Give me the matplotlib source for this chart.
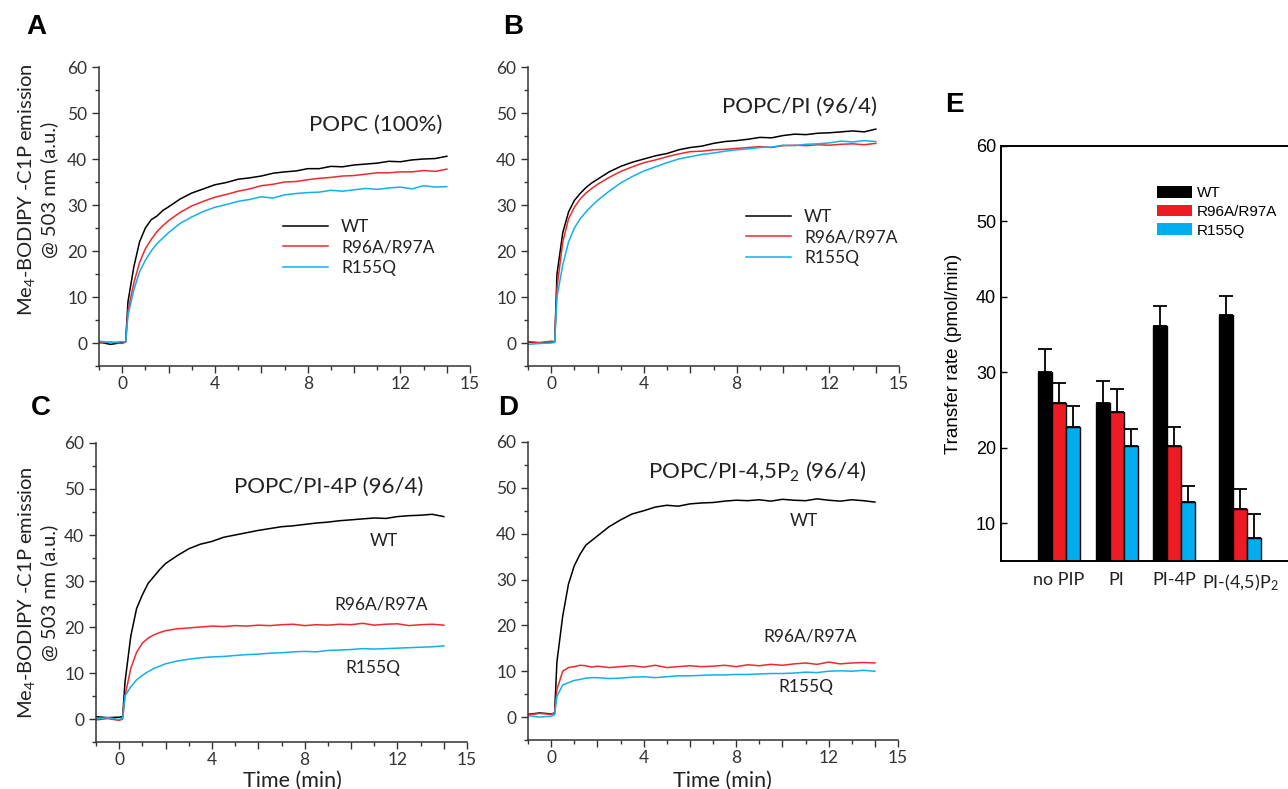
import numpy as np
import matplotlib
matplotlib.use("Agg")
import matplotlib.pyplot as plt
from matplotlib.patches import Patch
from matplotlib.ticker import FixedLocator, FixedFormatter

plt.rcParams['font.family'] = ['Lato', 'DejaVu Sans']
plt.rcParams['mathtext.fontset'] = 'custom'
plt.rcParams['mathtext.rm'] = 'Lato'
plt.rcParams['mathtext.default'] = 'regular'

# sampling times (min), shared by all traces
t = [-1.0, -0.5, 0.0, 0.15, 0.25, 0.5, 0.75, 1.0, 1.25, 1.5, 1.75,
     2.0, 2.5, 3.0, 3.5, 4.0, 4.5, 5.0, 5.5, 6.0, 6.5, 7.0, 7.5, 8.0,
     8.5, 9.0, 9.5, 10.0, 10.5, 11.0, 11.5, 12.0, 12.5, 13.0, 13.5, 14.0]

# panel A  POPC (100%)
a_wt = [0.2, -0.3, 0.1, 0.3, 9, 16.5, 22, 25, 26.8, 27.6, 28.8, 29.6, 31.3, 32.6, 33.5, 34.4,
        34.9, 35.6, 35.9, 36.3, 36.9, 37.2, 37.4, 37.9, 37.9, 38.4, 38.3, 38.7, 38.9, 39.1,
        39.5, 39.4, 39.8, 40.0, 40.1, 40.6]
a_rr = [0.0, 0.2, -0.1, 0.2, 7, 13, 17.5, 20.5, 22.5, 24.2, 25.5, 26.6, 28.4, 29.8, 30.8, 31.7,
        32.3, 33.0, 33.5, 34.2, 34.5, 35.0, 35.1, 35.5, 35.8, 36.0, 36.3, 36.4, 36.7, 37.0,
        37.0, 37.2, 37.2, 37.5, 37.3, 37.8]
a_rq = [0.4, 0.1, 0.3, 0.2, 6, 11.5, 15.5, 18, 20, 21.6, 22.8, 24, 26, 27.4, 28.6, 29.5,
        30.1, 30.8, 31.2, 31.8, 31.5, 32.2, 32.5, 32.7, 32.8, 33.2, 33.0, 33.3, 33.6, 33.4,
        33.7, 33.9, 33.5, 34.2, 33.9, 34.0]

# panel B  POPC/PI (96/4)
b_wt = [0.2, 0.0, 0.2, 0.3, 15, 24, 28.5, 31, 32.5, 33.8, 34.8, 35.6, 37.2, 38.4, 39.3, 40.0,
        40.7, 41.2, 42.0, 42.5, 42.8, 43.4, 43.8, 44.0, 44.3, 44.7, 44.6, 45.1, 45.4, 45.3,
        45.6, 45.7, 45.9, 46.1, 45.9, 46.5]
b_rr = [0.3, 0.1, 0.4, 0.3, 12, 22, 27, 29.5, 31.3, 32.6, 33.6, 34.5, 36.0, 37.3, 38.3, 39.2,
        39.8, 40.5, 41.1, 41.6, 41.7, 42.0, 42.1, 42.3, 42.5, 42.7, 42.5, 42.9, 43.0, 42.9,
        43.1, 43.0, 43.2, 43.3, 43.1, 43.4]
b_rq = [-0.3, -0.1, 0.0, 0.1, 10, 17, 22, 25, 27, 28.5, 29.8, 31, 33, 34.8, 36.2, 37.4,
        38.3, 39.2, 40.0, 40.5, 41.0, 41.3, 41.7, 42.0, 42.2, 42.5, 42.6, 43.0, 42.9, 43.2,
        43.3, 43.5, 43.9, 43.7, 44.0, 43.8]

# panel C  POPC/PI-4P (96/4)
c_wt = [0.5, 0.3, 0.4, 0.5, 8, 18, 24, 27, 29.5, 31, 32.5, 33.8, 35.5, 37, 38, 38.6,
        39.5, 40.0, 40.5, 41.0, 41.4, 41.8, 42.0, 42.3, 42.6, 42.8, 43.1, 43.3, 43.5, 43.7,
        43.6, 44.0, 44.2, 44.3, 44.5, 44.0]
c_rr = [-0.2, 0.1, -0.3, 0.0, 5, 11, 14.5, 16.5, 17.6, 18.3, 18.8, 19.2, 19.6, 19.8, 20.0, 20.2,
        20.1, 20.3, 20.2, 20.4, 20.3, 20.5, 20.6, 20.3, 20.5, 20.4, 20.6, 20.5, 20.8, 20.4,
        20.6, 20.7, 20.3, 20.5, 20.6, 20.4]
c_rq = [0.1, 0.3, -0.1, 0.2, 5, 7, 8.5, 9.5, 10.3, 11.0, 11.5, 12.0, 12.6, 13.0, 13.3, 13.5,
        13.6, 13.8, 14.0, 14.1, 14.3, 14.4, 14.6, 14.7, 14.6, 14.9, 15.0, 15.1, 15.3, 15.2,
        15.3, 15.4, 15.5, 15.6, 15.7, 15.9]

# panel D  POPC/PI-4,5P2 (96/4)
d_wt = [0.6, 0.9, 0.7, 0.8, 12, 22, 29, 33, 35.5, 37.5, 38.5, 39.5, 41.5, 43, 44.3, 45,
        45.8, 46.2, 46.0, 46.5, 46.7, 46.8, 47.1, 47.3, 47.2, 47.4, 47.1, 47.5, 47.3, 47.2,
        47.6, 47.3, 47.1, 47.4, 47.2, 46.9]
d_rr = [0.5, 0.8, 0.6, 1.0, 6, 10, 10.8, 11, 11.3, 11.2, 10.9, 11.1, 10.8, 11.0, 11.2, 10.9,
        11.3, 10.8, 11.0, 11.2, 11.0, 11.1, 11.3, 11.0, 11.4, 11.2, 11.5, 11.3, 11.6, 11.8,
        11.5, 12.0, 11.6, 11.8, 11.9, 11.8]
d_rq = [0.3, 0.0, 0.2, 0.5, 4.5, 7, 7.5, 8.0, 8.2, 8.5, 8.6, 8.6, 8.4, 8.5, 8.7, 8.8,
        8.6, 8.8, 9.0, 9.0, 9.1, 9.2, 9.2, 9.3, 9.3, 9.4, 9.5, 9.5, 9.6, 9.8,
        9.7, 10.0, 10.1, 10.0, 10.2, 10.0]

# panel E  transfer rates
lipids = ['no PIP', 'PI', 'PI-4P', 'PI-(4,5)P$_2$']
rate_wt = [30.0, 26.0, 36.2, 37.6]
err_wt = [3.1, 2.8, 2.6, 2.5]
rate_rr = [26.0, 24.7, 20.2, 11.9]
err_rr = [2.6, 3.1, 2.6, 2.7]
rate_rq = [22.8, 20.3, 12.8, 8.0]
err_rq = [2.7, 2.2, 2.2, 3.2]

labels = ['WT', 'R96A/R97A', 'R155Q']
cols = ['#000000', '#ee2a2e', '#12b0ec']
bar_cols = ['#000000', '#ed1c24', '#00aeef']

W, H = 1288, 789
fig = plt.figure(figsize=(W / 100, H / 100), dpi=100)


def box(l, r, top, bot):
    return [l / W, 1 - bot / H, (r - l) / W, (bot - top) / H]


def kinetic(ax, series):
    for y, c, lab in zip(series, cols, labels):
        ax.plot(t, y, color=c, lw=1.1, label=lab)
    ax.set_xlim(-1, 15)
    ax.set_ylim(-5, 60)
    for s in ['top', 'right']:
        ax.spines[s].set_visible(False)
    for s in ['left', 'bottom']:
        ax.spines[s].set_color('#333333')
        ax.spines[s].set_linewidth(1.1)
    ax.set_yticks(range(0, 61, 10))
    ax.set_yticks(range(-5, 60, 10), minor=True)
    major = [0, 2, 4, 6, 8, 10, 12, 14, 15]
    ax.xaxis.set_major_locator(FixedLocator(major))
    ax.xaxis.set_major_formatter(FixedFormatter(['0', '', '4', '', '8', '', '12', '', '15']))
    ax.set_xticks([-1, 1, 3, 5, 7, 9, 11, 13], minor=True)
    ax.tick_params(which='major', length=5, width=1.0, color='#333333',
                   labelsize=12.5, labelcolor='#333333')
    ax.tick_params(which='minor', length=3, width=1.0, color='#333333')
    ax.tick_params(axis='x', which='major', pad=2)


def key(ax, top):
    ax.legend(loc='upper left', bbox_to_anchor=(top[0] / W, 1 - top[1] / H),
              bbox_transform=fig.transFigure, frameon=False, fontsize=12.5,
              handlelength=2.6, handletextpad=0.75, labelspacing=0.25,
              borderpad=0, borderaxespad=0, labelcolor='#222222')


txt = dict(color='#222222', ha='center', va='center')

axA = fig.add_axes(box(99, 470, 67, 366))
kinetic(axA, [a_wt, a_rr, a_rq])
axA.text(10.95, 47.4, 'POPC (100%)', fontsize=16, **txt)
key(axA, (283, 219))

axB = fig.add_axes(box(528, 899, 67, 366))
kinetic(axB, [b_wt, b_rr, b_rq])
axB.text(10.7, 51.3, 'POPC/PI (96/4)', fontsize=16, **txt)
key(axB, (746, 209))

axC = fig.add_axes(box(96, 467, 443, 742))
kinetic(axC, [c_wt, c_rr, c_rq])
axC.text(9.05, 50.4, 'POPC/PI-4P (96/4)', fontsize=16, **txt)
axC.text(11.4, 38.7, 'WT', fontsize=12.5, **txt)
axC.text(11.3, 24.8, 'R96A/R97A', fontsize=12.5, **txt)
axC.text(10.95, 11.1, 'R155Q', fontsize=12.5, **txt)

axD = fig.add_axes(box(528, 898, 442, 740))
kinetic(axD, [d_wt, d_rr, d_rq])
axD.text(8.9, 53.7, 'POPC/PI-4,5P$_2$ (96/4)', fontsize=16, **txt)
axD.text(10.95, 42.8, 'WT', fontsize=12.5, **txt)
axD.text(11.2, 17.6, 'R96A/R97A', fontsize=12.5, **txt)
axD.text(11.0, 6.5, 'R155Q', fontsize=12.5, **txt)

ylab = 'Me$_4$-BODIPY -C1P emission\n@ 503 nm (a.u.)'
for yc in [190, 593]:
    fig.text(37 / W, 1 - yc / H, ylab, rotation=90, multialignment='center',
             fontsize=14.5, linespacing=1.2, **txt)
for xc in [292, 722]:
    fig.text(xc / W, 1 - 781 / H, 'Time (min)', fontsize=15.5, **txt)

# panel E
axE = fig.add_axes(box(1001, 1300, 146, 561))
xpos = np.array([0, 1, 2, 3.15])
bw = 0.243
for k, (vals, errs, c, lab) in enumerate(zip([rate_wt, rate_rr, rate_rq], [err_wt, err_rr, err_rq],
                                             bar_cols, labels)):
    axE.bar(xpos + (k - 1) * bw, vals, bw, color=c, edgecolor='black', linewidth=1.0, label=lab,
            yerr=[np.zeros(4), errs], error_kw=dict(ecolor='black', elinewidth=1.3, capsize=5,
                                                     capthick=1.3))
axE.set_xlim(-1.01, 4.19)
axE.set_ylim(5, 60)
axE.set_yticks(range(10, 61, 10))
axE.set_yticklabels([str(v) for v in range(10, 61, 10)], family=['Liberation Sans'], fontsize=13)
axE.set_xticks(xpos)
axE.set_xticklabels(lipids, fontsize=13, color='#222222')
axE.tick_params(axis='x', length=0, pad=8)
axE.tick_params(axis='y', direction='in', length=4, width=1.0)
for s in axE.spines.values():
    s.set_linewidth(1.4)
axE.set_ylabel('Transfer rate (pmol/min)', family=['Liberation Sans'], fontsize=13.5, labelpad=10)
handles = [Patch(facecolor=c, edgecolor='none') for c in bar_cols]
axE.legend(handles, labels, loc='upper left', bbox_to_anchor=(1157 / W, 1 - 186 / H),
           bbox_transform=fig.transFigure, frameon=False, prop={'family': 'Liberation Sans', 'size': 11},
           handlelength=2.3, handleheight=0.8, handletextpad=0.3, labelspacing=0.3,
           borderpad=0, borderaxespad=0)

# panel letters
for letter, x, y in [('A', 36, 27), ('B', 513, 27), ('C', 41, 408), ('D', 508, 408), ('E', 954, 105)]:
    fig.text(x / W, 1 - y / H, letter, fontsize=20, fontweight='bold', family=['Liberation Sans'],
             ha='center', va='center')

fig.savefig('out.png', dpi=100)
